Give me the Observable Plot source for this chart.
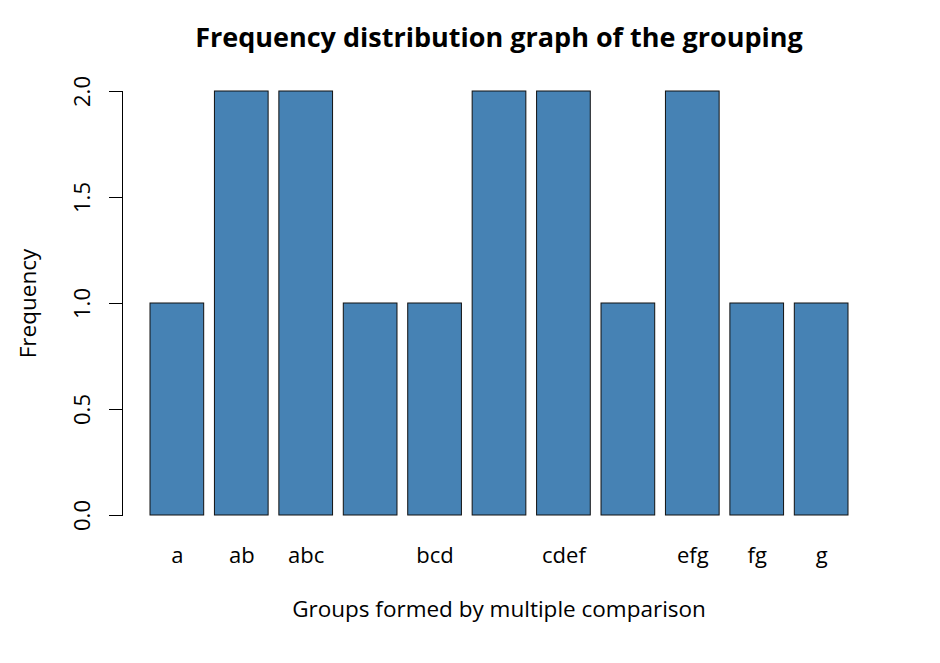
<!DOCTYPE html>
<html>
<head>
<meta charset="utf-8">
<script src="https://cdn.jsdelivr.net/npm/d3@7"></script>
<script src="https://cdn.jsdelivr.net/npm/@observablehq/plot@0.6"></script>
<style>
  html, body { margin: 0; padding: 0; background: #fff; }
  body { width: 940px; height: 663px; overflow: hidden; font-family: "Open Sans", sans-serif; }
  #title { height: 60px; width: 940px; position: relative; }
  #title span { position: absolute; left: 499px; top: 36px; transform: translate(-50%, -50%);
    font-weight: bold; font-size: 27px; white-space: nowrap; color: #000; line-height: 1; }
</style>
</head>
<body>
<div id="title"><span>Frequency distribution graph of the grouping</span></div>
<div id="chart"></div>
<script>
const groups = ["a", "ab", "abc", "abcd", "bcd", "bcde", "cdef", "defg", "efg", "fg", "g"];
const frequencies = [1, 2, 2, 1, 1, 2, 2, 1, 2, 1, 1];
const hiddenLabels = ["abcd", "bcde", "defg"];
const yTicks = [0, 0.5, 1.0, 1.5, 2.0];
const xTitle = "Groups formed by multiple comparison";
const yTitle = "Frequency";

const data = groups.map((g, i) => ({group: g, freq: frequencies[i]}));

const chart = Plot.plot({
  width: 940,
  height: 603,
  marginTop: 31,
  marginBottom: 148,
  marginLeft: 122,
  marginRight: 53,
  style: {fontFamily: "Open Sans", fontSize: "22px", color: "#000", background: "#fff"},
  x: {domain: groups, type: "band", round: false, paddingInner: 0.2 / 1.2, paddingOuter: 0, insetLeft: 28, insetRight: 39},
  y: {domain: [0, 2]},
  marks: [
    Plot.barY(data, {x: "group", y: "freq", fill: "#4682B4", stroke: "#111", strokeWidth: 1}),
    Plot.frame({anchor: "left", stroke: "#000"}),
    Plot.axisY(yTicks, {anchor: "left", tickSize: 13, tickPadding: 20, tickRotate: -90,
      tickFormat: d3.format(".1f"), label: null, fontSize: 22}),
    Plot.axisX({anchor: "bottom", tickSize: 0, tickPadding: 32, label: null, fontSize: 22,
      tickFormat: d => hiddenLabels.includes(d) ? "" : d}),
    Plot.text([yTitle], {frameAnchor: "left", dx: -94, rotate: -90, textAnchor: "middle", lineAnchor: "middle", fontSize: 22.5, fill: "#000"}),
    Plot.text([xTitle], {frameAnchor: "bottom", dy: 94, dx: -6, textAnchor: "middle", lineAnchor: "middle", fontSize: 22.5, fill: "#000"})
  ]
});
document.getElementById("chart").appendChild(chart);
</script>
</body>
</html>
